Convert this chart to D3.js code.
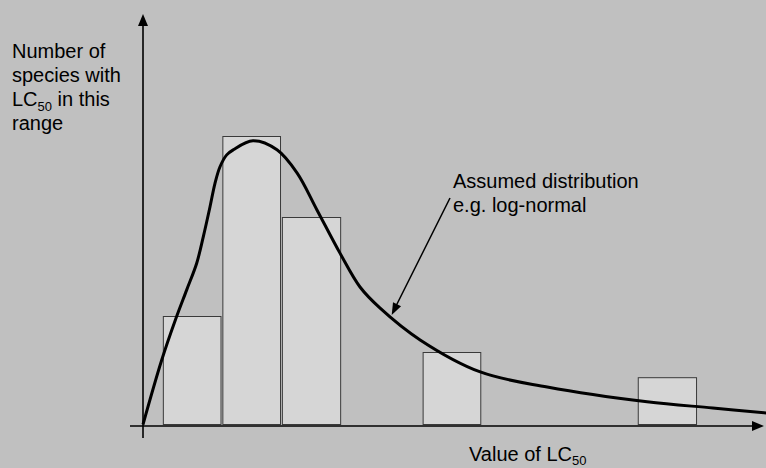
<!DOCTYPE html>
<html>
<head>
<meta charset="utf-8">
<script src="https://cdn.jsdelivr.net/npm/d3@7"></script>
<style>
  body { margin: 0; background: #c0c0c0; }
  svg { display: block; font-family: "Liberation Sans", Arial, sans-serif; }
</style>
</head>
<body>
<div id="plot_chart"></div>
<script>
// histogram bins: start, end (LC50 units), species count
var binStart = [3.2, 12.8, 22.4, 45.1, 79.8];
var binEnd   = [12.5, 22.1, 31.8, 54.4, 89.2];
var counts   = [3, 8, 5.75, 2, 1.3];

// assumed log-normal curve
var curveX = [0, 3.02, 5.32, 7.05, 8.66, 9.73, 10.81, 11.61, 12.42, 13.5, 14.56, 17.74, 21.61, 24.84, 28.06, 31.77, 35.0, 38.2, 44.7, 54.4, 65.2, 81.3, 91.9, 100.5];
var curveY = [0, 1.79, 2.95, 3.74, 4.48, 5.22, 6.05, 6.70, 7.16, 7.49, 7.63, 7.88, 7.63, 6.99, 5.96, 4.76, 3.82, 3.24, 2.35, 1.46, 1.04, 0.63, 0.46, 0.32];

var W = 766, H = 468;
var svg = d3.select('#plot_chart').append('svg').attr('width', W).attr('height', H);

svg.append('rect').attr('width', W).attr('height', H).attr('fill', '#c0c0c0');

var x = d3.scaleLinear().domain([0, 100]).range([143, 763]);
var y = d3.scaleLinear().domain([0, 10]).range([424.5, 64.5]);

// bars
svg.selectAll('rect.bar')
    .data(counts)
    .enter().append('rect')
    .attr('class', 'bar')
    .attr('x', function(d, i) { return x(binStart[i]) + 0.5; })
    .attr('y', function(d) { return y(d); })
    .attr('width', function(d, i) { return x(binEnd[i]) - x(binStart[i]); })
    .attr('height', function(d) { return y(0) - y(d); })
    .attr('fill', '#d6d6d6')
    .attr('stroke', '#3a3a3a')
    .attr('stroke-width', 1);

// axes (plain arrows, no ticks)
svg.append('line').attr('x1', 130).attr('y1', 426).attr('x2', 752).attr('y2', 426)
    .attr('stroke', '#000').attr('stroke-width', 1.6);
svg.append('path').attr('d', 'M764,426 L752,421 L752,431 Z').attr('fill', '#000');

svg.append('line').attr('x1', 143).attr('y1', 438).attr('x2', 143).attr('y2', 26)
    .attr('stroke', '#000').attr('stroke-width', 1.6);
svg.append('path').attr('d', 'M143,14 L138,26 L148,26 Z').attr('fill', '#000');

// distribution curve
var line = d3.line()
    .x(function(d) { return x(d); })
    .y(function(d, i) { return y(curveY[i]); })
    .curve(d3.curveCatmullRom.alpha(0.5));

svg.append('path')
    .datum(curveX)
    .attr('d', line)
    .attr('fill', 'none')
    .attr('stroke', '#000')
    .attr('stroke-width', 3);

// annotation arrow
svg.append('line').attr('x1', 450).attr('y1', 198).attr('x2', 396).attr('y2', 306)
    .attr('stroke', '#000').attr('stroke-width', 1.5);
var ang = Math.atan2(315 - 198, 391.7 - 450);
var tip = [391.7, 315];
var hl = 12, hw = 4.5;
var bx = tip[0] - hl * Math.cos(ang), by = tip[1] - hl * Math.sin(ang);
svg.append('path')
    .attr('d', 'M' + tip[0] + ',' + tip[1] +
        ' L' + (bx + hw * Math.sin(ang)) + ',' + (by - hw * Math.cos(ang)) +
        ' L' + (bx - hw * Math.sin(ang)) + ',' + (by + hw * Math.cos(ang)) + ' Z')
    .attr('fill', '#000');

// texts
var fs = 20;
var yl = svg.append('text').attr('font-size', fs).attr('fill', '#000');
yl.append('tspan').attr('x', 12).attr('y', 58).text('Number of');
yl.append('tspan').attr('x', 12).attr('y', 82).text('species with');
yl.append('tspan').attr('x', 12).attr('y', 106).text('LC');
yl.append('tspan').attr('dy', 5).attr('font-size', 13).text('50');
yl.append('tspan').attr('dy', -5).text(' in this');
yl.append('tspan').attr('x', 12).attr('y', 130).text('range');

var an = svg.append('text').attr('font-size', fs).attr('fill', '#000');
an.append('tspan').attr('x', 453).attr('y', 188).text('Assumed distribution');
an.append('tspan').attr('x', 453).attr('y', 212).text('e.g. log-normal');

var xl = svg.append('text').attr('font-size', fs).attr('fill', '#000')
    .attr('x', 469).attr('y', 461);
xl.append('tspan').text('Value of LC');
xl.append('tspan').attr('dy', 4).attr('font-size', 13).text('50');
</script>
</body>
</html>
